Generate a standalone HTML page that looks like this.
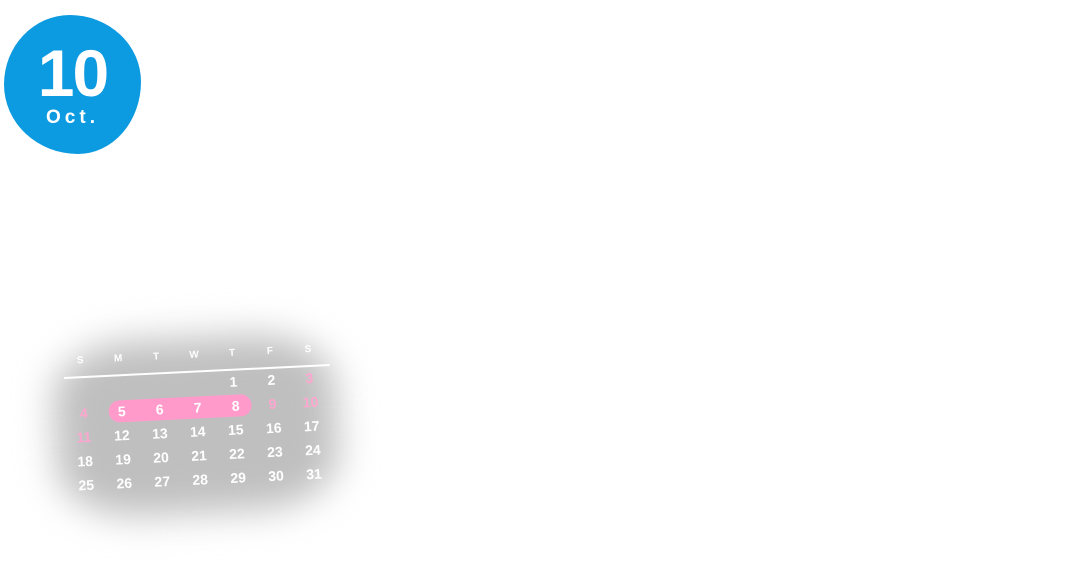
<!DOCTYPE html>
<html><head><style>
html,body{margin:0;padding:0;background:#fff;width:1085px;height:571px;overflow:hidden;position:relative;font-family:"Liberation Sans",sans-serif}
.blob{position:absolute;left:4px;top:15px;width:137px;height:139px;background:#0c9ae0;border-radius:48% 52% 46% 54%/50% 48% 52% 50%}
.n10{position:absolute;left:0;top:40px;width:145px;text-align:center;color:#fff;font-weight:bold;font-size:66px;line-height:66px;letter-spacing:-2px}
.oct{position:absolute;left:0;top:107px;width:145px;text-align:center;color:#fff;font-weight:bold;font-size:19px;letter-spacing:4px}
.shadow{position:absolute;left:55px;top:338px;width:282px;height:175px;background:#bfbfbf;filter:blur(18px);border-radius:30%;transform:rotate(-3deg)}
.cal{position:absolute;left:64px;top:377px;width:270px;height:130px;transform:rotate(-2.8deg);transform-origin:0 0}
.cal span{position:absolute;width:30px;margin-left:-15px;text-align:center;font-weight:bold;color:#fff;font-size:14px;line-height:16px;margin-top:-8px}
.cal span.h{font-size:10px}
.cal span.p{color:#ffa6cf}
.line{position:absolute;left:0;top:0;width:266px;height:2px;background:#fff}
.pill{position:absolute;left:43px;top:26px;width:143px;height:22px;border-radius:11px;background:#ff9acb}
</style></head><body>
<div class="blob"></div>
<div class="n10">10</div>
<div class="oct">Oct.</div>
<div class="shadow"></div>
<div class="cal">
<div class="line"></div>
<div class="pill"></div>
<span class="h" style="left:17px;top:-15px">S</span>
<span class="h" style="left:55px;top:-15px">M</span>
<span class="h" style="left:93px;top:-15px">T</span>
<span class="h" style="left:131px;top:-15px">W</span>
<span class="h" style="left:169px;top:-15px">T</span>
<span class="h" style="left:207px;top:-15px">F</span>
<span class="h" style="left:245px;top:-15px">S</span>

<span style="left:169px;top:13px">1</span>
<span style="left:207px;top:13px">2</span>
<span class="p" style="left:245px;top:13px">3</span>

<span class="p" style="left:18px;top:37px">4</span>
<span style="left:56px;top:37px">5</span>
<span style="left:94px;top:37px">6</span>
<span style="left:132px;top:37px">7</span>
<span style="left:170px;top:37px">8</span>
<span class="p" style="left:207px;top:37px">9</span>
<span class="p" style="left:245px;top:37px">10</span>

<span class="p" style="left:17px;top:61px">11</span>
<span style="left:55px;top:61px">12</span>
<span style="left:93px;top:61px">13</span>
<span style="left:131px;top:61px">14</span>
<span style="left:169px;top:61px">15</span>
<span style="left:207px;top:61px">16</span>
<span style="left:245px;top:61px">17</span>

<span style="left:17px;top:85px">18</span>
<span style="left:55px;top:85px">19</span>
<span style="left:93px;top:85px">20</span>
<span style="left:131px;top:85px">21</span>
<span style="left:169px;top:85px">22</span>
<span style="left:207px;top:85px">23</span>
<span style="left:245px;top:85px">24</span>

<span style="left:17px;top:109px">25</span>
<span style="left:55px;top:109px">26</span>
<span style="left:93px;top:109px">27</span>
<span style="left:131px;top:109px">28</span>
<span style="left:169px;top:109px">29</span>
<span style="left:207px;top:109px">30</span>
<span style="left:245px;top:109px">31</span>
</div>
</body></html>
